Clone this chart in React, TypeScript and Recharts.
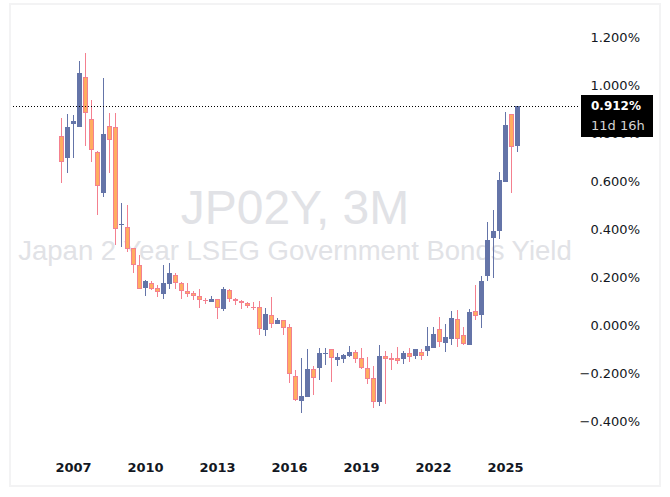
import { Bar, ComposedChart, ReferenceLine, XAxis, YAxis } from 'recharts';

// quarterly candles, first one is 2006 Q3, values in percent
const opens = [
  0.786, 0.697, 0.839, 0.824, 1.032, 0.857, 0.719, 0.551, 0.828, 0.824, 0.418, 0.407, 0.319, 0.249, 0.156, 0.174,
  0.153, 0.131, 0.172, 0.207, 0.174, 0.140, 0.132, 0.119, 0.104, 0.097, 0.107, 0.068, 0.144, 0.107, 0.099, 0.090,
  0.074, 0.074, -0.019, 0.040, 0.006, 0.019, -0.010, -0.214, -0.315, -0.299, -0.185, -0.178, -0.121, -0.101, -0.144,
  -0.142, -0.129, -0.113, -0.138, -0.179, -0.221, -0.321, -0.129, -0.138, -0.138, -0.142, -0.117, -0.129, -0.113,
  -0.108, -0.096, -0.017, -0.075, -0.058, 0.024, -0.043, -0.082, 0.057, 0.042, 0.206, 0.363, 0.393, 0.597, 0.878,
  0.747,
];
const highs = [
  0.861, 0.878, 0.874, 1.099, 1.132, 0.936, 0.724, 1.029, 0.882, 0.882, 0.507, 0.499, 0.319, 0.290, 0.186, 0.182,
  0.165, 0.250, 0.260, 0.215, 0.178, 0.174, 0.140, 0.150, 0.111, 0.119, 0.107, 0.157, 0.150, 0.113, 0.104, 0.096,
  0.096, 0.099, 0.071, 0.117, 0.028, 0.019, 0.003, -0.188, -0.138, -0.100, -0.172, -0.097, -0.097, -0.100, -0.117,
  -0.121, -0.088, -0.104, -0.096, -0.133, -0.171, -0.083, -0.108, -0.117, -0.092, -0.108, -0.096, -0.100, -0.100,
  -0.008, -0.008, 0.033, 0.004, 0.060, 0.063, -0.010, 0.065, 0.167, 0.204, 0.429, 0.479, 0.638, 0.888, 0.878, 0.912,
];
const lows = [
  0.593, 0.635, 0.697, 0.824, 0.747, 0.681, 0.460, 0.535, 0.635, 0.335, 0.326, 0.306, 0.218, 0.149, 0.122, 0.147,
  0.118, 0.108, 0.150, 0.151, 0.108, 0.118, 0.104, 0.072, 0.089, 0.096, 0.025, 0.060, 0.096, 0.085, 0.067, 0.071,
  0.064, -0.040, -0.044, -0.011, 0.006, -0.040, -0.240, -0.315, -0.365, -0.299, -0.290, -0.228, -0.165, -0.236,
  -0.171, -0.158, -0.133, -0.158, -0.183, -0.246, -0.346, -0.338, -0.329, -0.188, -0.163, -0.163, -0.154, -0.142,
  -0.146, -0.129, -0.096, -0.092, -0.113, -0.083, -0.090, -0.083, -0.082, 0.021, -0.013, 0.185, 0.196, 0.360, 0.597,
  0.551, 0.722,
];
const closes = [
  0.678, 0.824, 0.850, 1.050, 0.882, 0.728, 0.578, 0.794, 0.769, 0.399, 0.421, 0.315, 0.249, 0.149, 0.182, 0.149,
  0.139, 0.174, 0.215, 0.174, 0.140, 0.131, 0.119, 0.103, 0.101, 0.107, 0.069, 0.149, 0.107, 0.099, 0.090, 0.078,
  0.071, -0.018, 0.044, 0.006, 0.019, -0.011, -0.206, -0.314, -0.296, -0.185, -0.222, -0.118, -0.118, -0.139,
  -0.135, -0.126, -0.113, -0.140, -0.178, -0.224, -0.319, -0.129, -0.142, -0.146, -0.150, -0.117, -0.132, -0.100,
  -0.129, -0.088, -0.038, -0.071, -0.050, 0.029, -0.057, -0.078, 0.054, 0.039, 0.183, 0.354, 0.392, 0.604, 0.833,
  0.743, 0.912,
];
const xTicks = [2, 14, 26, 38, 50, 62, 74];
const xLabels = ['2007', '2010', '2013', '2016', '2019', '2022', '2025'];
const yTicks = [-0.4, -0.2, 0, 0.2, 0.4, 0.6, 0.8, 1, 1.2];
const lastPrice = 0.912;

const candles = opens.map((open, i) => ({
  i,
  open,
  close: closes[i],
  range: [lows[i], highs[i]],
}));

const UP = '#6474a8';
const DOWN = '#ffad60';
const DOWN_EDGE = '#f4808f';
const WATERMARK = '#e1e2e6';
const FONT = "'DejaVu Sans', sans-serif";

function Candle(props: any) {
  const { x, y, width, height, payload } = props;
  const [low, high] = payload.range;
  const perUnit = height / (high - low);
  const bodyTop = y + (high - Math.max(payload.open, payload.close)) * perUnit;
  const bodyH = Math.max(Math.abs(payload.open - payload.close) * perUnit, 1);
  const isUp = payload.close >= payload.open;
  const mid = Math.round(x + width / 2 - 0.5);
  if (isUp) {
    return (
      <g shapeRendering="crispEdges">
        <rect x={mid} y={y} width={1} height={height} fill={UP} />
        <rect x={mid - 2} y={bodyTop} width={5} height={bodyH} fill={UP} />
      </g>
    );
  }
  return (
    <g shapeRendering="crispEdges">
      <rect x={mid} y={y} width={1} height={height} fill={DOWN_EDGE} />
      <rect x={mid - 2} y={bodyTop} width={5} height={bodyH} fill={DOWN_EDGE} />
      {bodyH > 2 && <rect x={mid - 1} y={bodyTop + 1} width={3} height={bodyH - 2} fill={DOWN} />}
    </g>
  );
}

function PriceTick({ x, y, payload }: any) {
  const v = payload.value;
  return (
    <text x={x + 49} y={y + 5} textAnchor="end" fontFamily={FONT} fontSize={13} fill="#131722">
      {`${v < 0 ? '\u2212' : ''}${Math.abs(v).toFixed(3)}%`}
    </text>
  );
}

export default function App() {
  return (
    <div
      style={{
        position: 'absolute',
        left: 0,
        top: 0,
        width: 670,
        height: 497,
        background: '#ffffff',
      }}
    >
      <div
        style={{
          position: 'absolute',
          left: 9,
          top: 3,
          width: 648,
          height: 480,
          border: '2px solid #f3f3f4',
        }}
      />
      <div style={{ position: 'absolute', left: 0, top: 0 }}>
        <ComposedChart
          width={670}
          height={497}
          data={candles}
          margin={{ top: 13, right: 0, left: 10.5, bottom: 0 }}
        >
          <text
            x={295}
            y={224}
            textAnchor="middle"
            fontFamily="'Liberation Sans', Arial, sans-serif"
            fontSize={48}
            fill={WATERMARK}
          >
            JP02Y, 3M
          </text>
          <text
            x={295}
            y={260}
            textAnchor="middle"
            fontFamily="'Liberation Sans', Arial, sans-serif"
            fontSize={27.5}
            fill={WATERMARK}
          >
            Japan 2 Year LSEG Government Bonds Yield
          </text>
          <XAxis
            dataKey="i"
            type="number"
            domain={[-8.5, 86]}
            ticks={xTicks}
            tickFormatter={(v: number) => xLabels[xTicks.indexOf(v)]}
            axisLine={false}
            tickLine={false}
            tick={{ fill: '#131722', fontSize: 13, fontWeight: 'bold', fontFamily: FONT }}
            height={52}
            tickMargin={12}
          />
          <YAxis
            orientation="right"
            type="number"
            domain={[-0.5, 1.3]}
            ticks={yTicks}
            tick={<PriceTick />}
            axisLine={false}
            tickLine={false}
            width={92.5}
            tickMargin={7.5}
          />
          <Bar dataKey="range" barSize={5} shape={Candle} isAnimationActive={false} />
          <ReferenceLine y={lastPrice} stroke="#000000" strokeDasharray="1 2" shapeRendering="crispEdges" />
        </ComposedChart>
      </div>
      {/* price tag sits over the 0.800% tick, so it goes on top of the chart */}
      <div
        style={{
          position: 'absolute',
          left: 581,
          top: 95,
          width: 72,
          height: 42,
          background: '#000000',
          fontFamily: FONT,
          lineHeight: '19px',
          paddingTop: 2,
          boxSizing: 'border-box',
          paddingLeft: 10,
          whiteSpace: 'nowrap',
        }}
      >
        <div style={{ fontSize: 12, fontWeight: 'bold', color: '#ffffff' }}>{lastPrice.toFixed(3)}%</div>
        <div style={{ fontSize: 13, color: '#d4d4d4' }}>11d 16h</div>
      </div>
    </div>
  );
}
